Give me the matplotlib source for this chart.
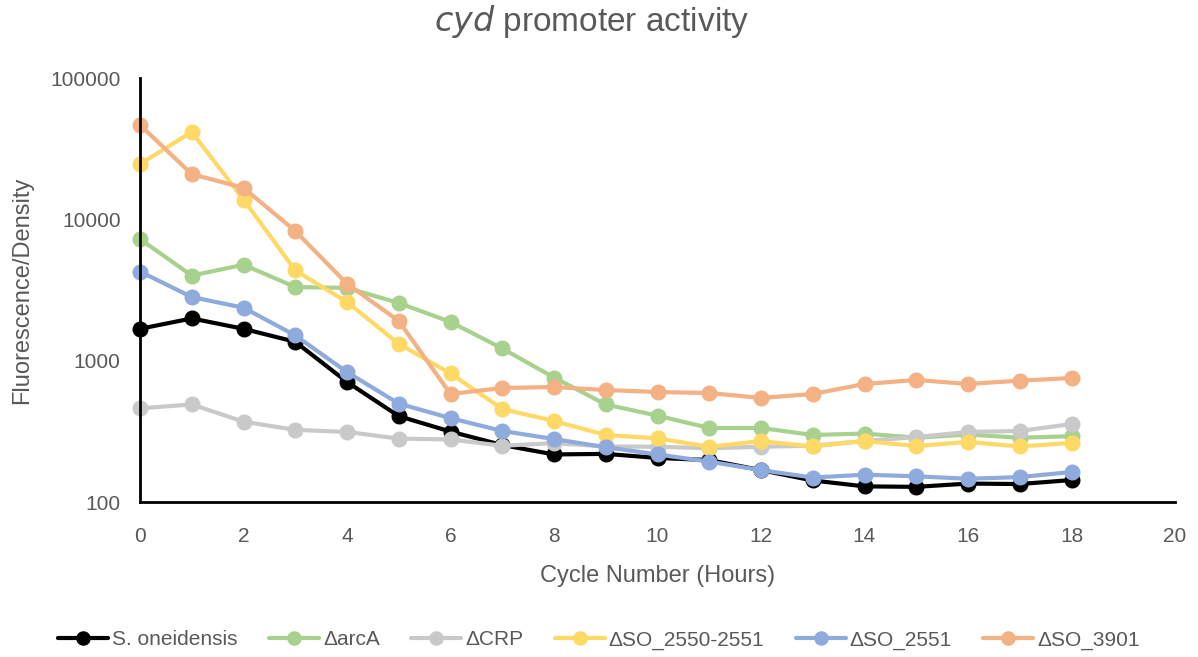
import numpy as np
import matplotlib.pyplot as plt
from matplotlib.ticker import FixedLocator, FixedFormatter

plt.rcParams['font.family'] = ['Liberation Sans', 'DejaVu Sans']

hours = np.arange(0, 19)

# fluorescence / density per strain, one value per hour
wild_type = [1680, 1990, 1680, 1360, 707, 405, 315, 253, 217, 219, 205, 198, 168, 142, 129, 128, 135, 134, 143]
arc_a = [7250, 4000, 4770, 3320, 3270, 2560, 1880, 1220, 760, 490, 408, 334, 334, 298, 305, 285, 300, 285, 292]
crp = [460, 490, 370, 324, 313, 281, 277, 250, 261, 247, 246, 240, 246, 250, 270, 288, 313, 318, 356]
so_2550_2551 = [24600, 41500, 13800, 4350, 2600, 1315, 812, 455, 374, 298, 282, 246, 270, 247, 270, 249, 266, 247, 262]
so_2551 = [4270, 2820, 2370, 1510, 830, 497, 392, 318, 279, 244, 217, 193, 168, 149, 156, 152, 146, 150, 163]
so_3901 = [46500, 20900, 16700, 8270, 3500, 1910, 581, 641, 651, 620, 600, 590, 545, 581, 684, 730, 684, 722, 754]

labels = ['S. oneidensis', 'ΔarcA', 'ΔCRP', 'ΔSO_2550-2551', 'ΔSO_2551', 'ΔSO_3901']
colors = ['#000000', '#A9D18E', '#C9C9C9', '#FFD966', '#8FAADC', '#F4B183']
series = [wild_type, arc_a, crp, so_2550_2551, so_2551, so_3901]

fig = plt.figure(figsize=(11.98, 6.57), dpi=100)
ax = fig.add_axes([140 / 1198, 1 - 502 / 657, (1175 - 140) / 1198, (502 - 78) / 657])

for vals, lab, col in zip(series, labels, colors):
    ax.plot(hours, vals, color=col, linewidth=3, marker='o', markersize=10.5,
            label=lab, solid_capstyle='round', clip_on=False)

ax.set_yscale('log')
ax.set_ylim(100, 100000)
ax.set_xlim(0, 20)
ax.set_xticks(np.arange(0, 21, 2))
ax.yaxis.set_major_locator(FixedLocator([100, 1000, 10000, 100000]))
ax.yaxis.set_major_formatter(FixedFormatter(['100', '1000', '10000', '100000']))
ax.yaxis.set_minor_locator(FixedLocator([]))
ax.tick_params(axis='y', length=0, labelsize=15, colors='#595959', pad=14)
ax.tick_params(axis='x', length=0, labelsize=15, colors='#595959', pad=18)

for side in ['top', 'right']:
    ax.spines[side].set_visible(False)
for side in ['left', 'bottom']:
    ax.spines[side].set_linewidth(2)
    ax.spines[side].set_color('black')

ax.set_xlabel('Cycle Number (Hours)', fontsize=17, color='#595959', labelpad=14)
ax.set_ylabel('Fluorescence/Density', fontsize=17, color='#595959', labelpad=12)

fig.text(592 / 1198, 1 - 22 / 657, r'$\it{cyd}$ promoter activity', ha='center', va='center',
         fontsize=24, color='#595959')

fig.legend(loc='center', bbox_to_anchor=(599 / 1198, 1 - 640 / 657), ncol=6, frameon=False,
           fontsize=15, handlelength=2.4, columnspacing=1.5, handletextpad=0.2,
           markerscale=0.9, labelcolor='#595959')

fig.savefig('out.png', dpi=100)
